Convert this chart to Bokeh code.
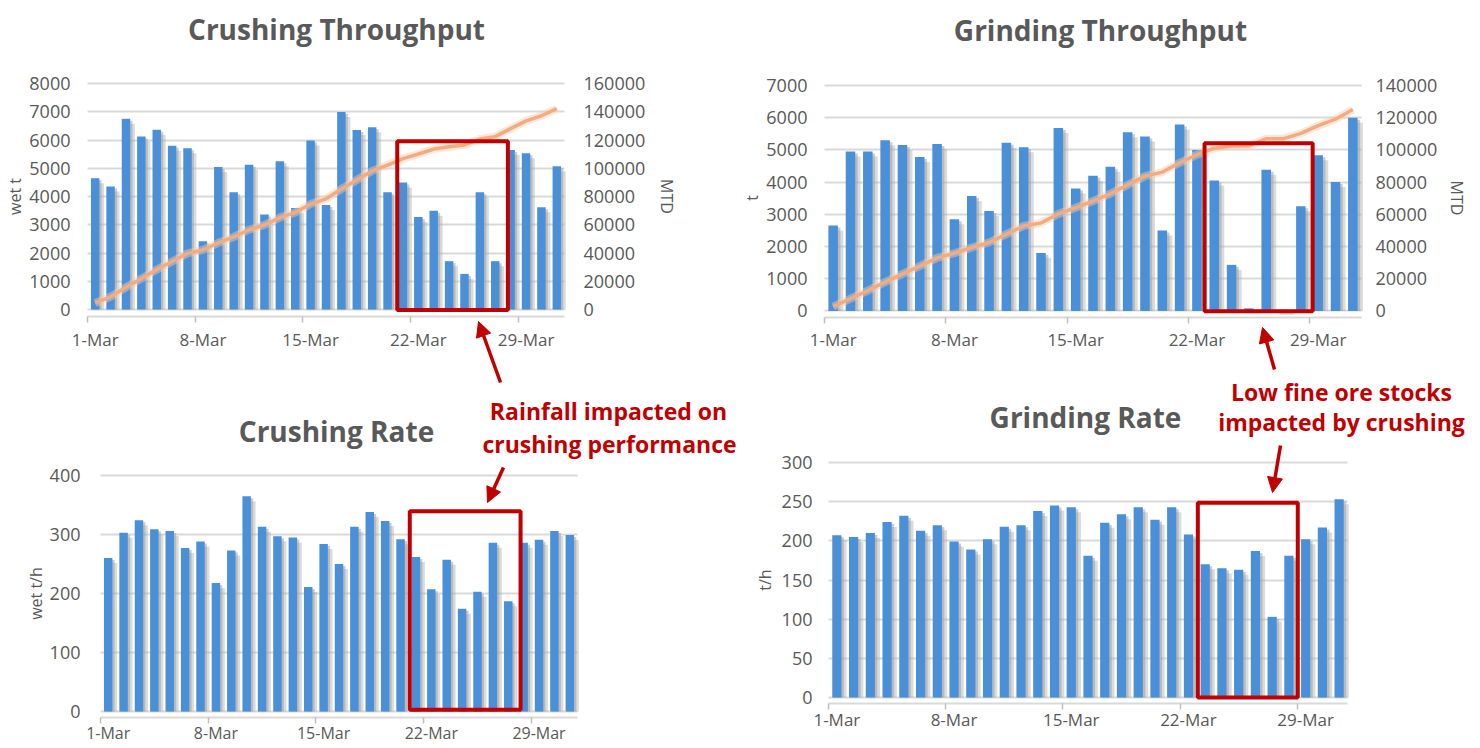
from bokeh.plotting import figure
from bokeh.models import (Range1d, LinearAxis, FixedTicker, Label, Arrow, Grid,
                          NormalHead, BoxAnnotation, ColumnDataSource, BasicTickFormatter)
from bokeh.layouts import row, column
from bokeh.transform import dodge
from bokeh.embed import file_html
from bokeh.resources import INLINE

# ---------------- data ----------------
days = list(range(1, 32))                      # 1-Mar .. 31-Mar
tick_days = [1, 8, 15, 22, 29]
tick_labels = ["1-Mar", "8-Mar", "15-Mar", "22-Mar", "29-Mar"]

crushing_throughput = [4650, 4350, 6750, 6120, 6360, 5800, 5710, 2420, 5040, 4150,
                       5120, 3360, 5250, 3590, 5980, 3700, 6990, 6350, 6450, 4150,
                       4500, 3270, 3500, 1710, 1260, 4150, 1710, 5650, 5530, 3620, 5070]
crushing_mtd = [4650, 9000, 15750, 21870, 28230, 34030, 39740, 42160, 47200, 51350,
                56470, 59830, 65080, 68670, 74650, 78350, 85340, 91690, 98140, 102290,
                106790, 110060, 113560, 115270, 116530, 120680, 122390, 128040, 133570,
                137190, 142260]

grinding_throughput = [2650, 4950, 4950, 5300, 5150, 4780, 5180, 2850, 3570, 3100,
                       5220, 5080, 1800, 5680, 3800, 4200, 4480, 5550, 5420, 2500,
                       5790, 5000, 4050, 1430, 80, 4380, 30, 3250, 4830, 4000, 6000]
grinding_mtd = [2650, 7600, 12550, 17850, 23000, 27780, 32960, 35810, 39380, 42480,
                47700, 52780, 54580, 60260, 64060, 68260, 72740, 78290, 83710, 86210,
                92000, 97000, 101050, 102480, 102560, 106940, 106970, 110220, 115050,
                119050, 125050]

crushing_rate = [260, 303, 324, 309, 306, 277, 288, 218, 273, 365, 313, 297, 295, 211,
                 284, 250, 313, 338, 323, 292, 262, 207, 257, 174, 203, 286, 187, 286,
                 291, 306, 299]
grinding_rate = [207, 205, 210, 224, 232, 213, 220, 199, 189, 202, 218, 220, 238, 245,
                 243, 181, 223, 234, 243, 227, 243, 208, 170, 165, 163, 187, 103, 181,
                 202, 217, 253]

# ---------------- style ----------------
GRAY = "#595959"
RED = "#c00000"
BAR = "#4a90d9"
FONT = "Open Sans"

# page geometry: canvas of each figure, plot area (L..R), pixel of value 0,
# pixel of the top value, pixel of the category axis line
SPEC = {
    "TL": dict(fx=0, fy=0, w=738, h=395, L=87, R=564, zero=309.0, top=83.0, ymax=8000, axis=316),
    "TR": dict(fx=738, fy=0, w=742, h=372, L=824, R=1361, zero=310.4, top=85.0, ymax=7000, axis=317),
    "BL": dict(fx=0, fy=395, w=738, h=353, L=100, R=577, zero=711.0, top=475.0, ymax=400, axis=717),
    "BR": dict(fx=738, fy=372, w=742, h=376, L=828, R=1347, zero=697.0, top=462.0, ymax=300, axis=703),
}


def geom(s):
    cw = (s["R"] - s["L"]) / 31.0
    ppu = (s["zero"] - s["top"]) / s["ymax"]
    return cw, ppu


def to_data(s, px, py):
    cw, ppu = geom(s)
    return 0.5 + (px - s["L"]) / cw, (s["zero"] - py) / ppu


def style_axis(ax, size):
    ax.major_label_text_font = FONT
    ax.major_label_text_font_size = size
    ax.major_label_text_color = GRAY
    ax.axis_label_text_font = FONT
    ax.axis_label_text_font_size = "16px"
    ax.axis_label_text_font_style = "normal"
    ax.axis_label_text_color = GRAY


def value_axis(ax, standoff, lab_standoff):
    ax.axis_line_color = None
    ax.major_tick_line_color = None
    ax.minor_tick_line_color = None
    ax.major_tick_out = 0
    ax.major_tick_in = 0
    ax.minor_tick_out = 0
    ax.minor_tick_in = 0
    ax.major_label_standoff = standoff
    ax.axis_label_standoff = lab_standoff


def make_chart(s, values, ystep, ylabel, xstandoff, ystandoff, ylab_standoff,
               mtd=None, mtd_max=None, mtd_step=None, rstandoff=0, rlab_standoff=0,
               xfont="17px"):
    cw, ppu = geom(s)
    x0 = 0.5 + (s["fx"] - s["L"]) / cw
    x1 = 0.5 + (s["fx"] + s["w"] - s["L"]) / cw
    y0 = (s["zero"] - (s["fy"] + s["h"])) / ppu
    y1 = (s["zero"] - s["fy"]) / ppu
    p = figure(width=s["w"], height=s["h"], title=None,
               x_range=Range1d(x0, x1), y_range=Range1d(y0, y1),
               x_axis_location=None, y_axis_location=None,
               output_backend="svg", toolbar_location=None, min_border=0)
    p.outline_line_color = None
    p.background_fill_color = "white"
    p.border_fill_color = "white"
    p.xgrid.visible = False
    p.ygrid.visible = False

    ymax = s["ymax"]
    yt = FixedTicker(ticks=list(range(0, ymax + 1, ystep)))
    p.add_layout(Grid(dimension=1, ticker=yt, bounds=(0, ymax), cross_bounds=(0.5, 31.5),
                      grid_line_color="#d9d9d9", grid_line_width=2))

    # left value axis
    ya = LinearAxis(ticker=yt, fixed_location=0.5, bounds=(0, ymax), axis_label=ylabel)
    style_axis(ya, "18px")
    value_axis(ya, ystandoff, ylab_standoff)
    p.add_layout(ya, "left")

    # category (date) axis
    xt = FixedTicker(ticks=tick_days, minor_ticks=[d - 0.5 for d in tick_days])
    xa = LinearAxis(ticker=xt, fixed_location=(s["zero"] - s["axis"]) / ppu, bounds=(0.5, 31.5))
    style_axis(xa, xfont)
    xa.major_label_overrides = dict(zip(tick_days, tick_labels))
    xa.major_tick_line_color = None
    xa.major_tick_out = 0
    xa.major_tick_in = 0
    xa.minor_tick_line_color = "#bfbfbf"
    xa.minor_tick_line_width = 1.5
    xa.minor_tick_out = 6
    xa.minor_tick_in = 0
    xa.axis_line_color = "#d9d9d9"
    xa.axis_line_width = 2
    xa.major_label_standoff = xstandoff
    p.add_layout(xa, "below")

    data = dict(day=days, val=values)
    if mtd is not None:
        data["mtd"] = mtd
    src = ColumnDataSource(data)

    # soft shadow behind the bars
    p.vbar(x=dodge("day", 0.18, range=p.x_range), top=dodge("val", -5 / ppu, range=p.y_range),
           width=0.8, source=src, fill_color="#b0b0b0", fill_alpha=0.45, line_color=None)
    p.vbar(x=dodge("day", 0.12, range=p.x_range), top=dodge("val", -2 / ppu, range=p.y_range),
           width=0.6, source=src, fill_color="#999999", fill_alpha=0.5, line_color=None)
    p.vbar(x="day", top="val", width=0.55, source=src, fill_color=BAR, line_color=None)

    if mtd is not None:
        k = mtd_max / ymax
        p.extra_y_ranges = {"mtd": Range1d(y0 * k, y1 * k)}
        ra = LinearAxis(y_range_name="mtd", fixed_location=31.5, bounds=(0, mtd_max),
                        ticker=FixedTicker(ticks=list(range(0, mtd_max + 1, mtd_step))),
                        formatter=BasicTickFormatter(use_scientific=False), axis_label="MTD")
        style_axis(ra, "18px")
        value_axis(ra, rstandoff, rlab_standoff)
        p.add_layout(ra, "right")
        p.line(x="day", y="mtd", source=src, y_range_name="mtd",
               line_color="#f8cbad", line_width=8, line_alpha=0.45)
        p.line(x="day", y="mtd", source=src, y_range_name="mtd",
               line_color="#f2ac80", line_width=3.5)
    return p


def add_text(p, s, text, px, py, size, color):
    x, y = to_data(s, px, py)
    p.add_layout(Label(x=x, y=y, text=text, text_font=FONT, text_font_size=size,
                       text_font_style="bold", text_color=color, text_align="center",
                       text_baseline="alphabetic"))


def add_box(p, left, right, bottom, top):
    p.add_layout(BoxAnnotation(left=left, right=right, bottom=bottom, top=top,
                               fill_color=None, fill_alpha=0, line_color=RED,
                               line_width=4, line_alpha=1))


def add_arrow(p, s, p0, p1):
    x0, y0 = to_data(s, *p0)
    x1, y1 = to_data(s, *p1)
    p.add_layout(Arrow(x_start=x0, y_start=y0, x_end=x1, y_end=y1,
                       line_color=RED, line_width=3.5,
                       end=NormalHead(size=15, fill_color=RED, line_color=RED)))


# ---------------- charts ----------------
tl = make_chart(SPEC["TL"], crushing_throughput, 1000, "wet t", 5, 17, 0,
                mtd=crushing_mtd, mtd_max=160000, mtd_step=20000, rstandoff=19, rlab_standoff=8)
tr = make_chart(SPEC["TR"], grinding_throughput, 1000, "t", 4, 17, 0,
                mtd=grinding_mtd, mtd_max=140000, mtd_step=20000, rstandoff=14, rlab_standoff=6)
bl = make_chart(SPEC["BL"], crushing_rate, 100, "wet t/h", -2, 20, 0, xfont="16px")
br = make_chart(SPEC["BR"], grinding_rate, 50, "t/h", -2, 16, 3)

add_text(tl, SPEC["TL"], "Crushing Throughput", 336, 28, "28px", GRAY)
add_text(tr, SPEC["TR"], "Grinding Throughput", 1100, 29, "28px", GRAY)
add_text(bl, SPEC["BL"], "Crushing Rate", 336, 430, "28px", GRAY)
add_text(br, SPEC["BR"], "Grinding Rate", 1085, 416, "28px", GRAY)

add_box(tl, 20.63, 27.82, -20, 5958)
add_box(tr, 22.44, 28.68, -10, 5208)
add_box(bl, 20.6, 27.8, 3, 339.5)
add_box(br, 22.56, 28.53, 0, 248.6)

add_arrow(tl, SPEC["TL"], (500, 382), (478, 321))
add_arrow(bl, SPEC["BL"], (503, 467), (487, 502))
add_arrow(tr, SPEC["TR"], (1274, 369), (1262, 327))
add_arrow(br, SPEC["BR"], (1280, 445), (1272, 492))

add_text(bl, SPEC["BL"], "Rainfall impacted on", 608, 410, "23px", RED)
add_text(bl, SPEC["BL"], "crushing performance", 609, 443, "23px", RED)
add_text(br, SPEC["BR"], "Low fine ore stocks", 1341, 391, "23px", RED)
add_text(br, SPEC["BR"], "impacted by crushing", 1341, 421, "23px", RED)

layout = row(column(tl, bl), column(tr, br))

open("out.html", "w").write(file_html(layout, INLINE))
